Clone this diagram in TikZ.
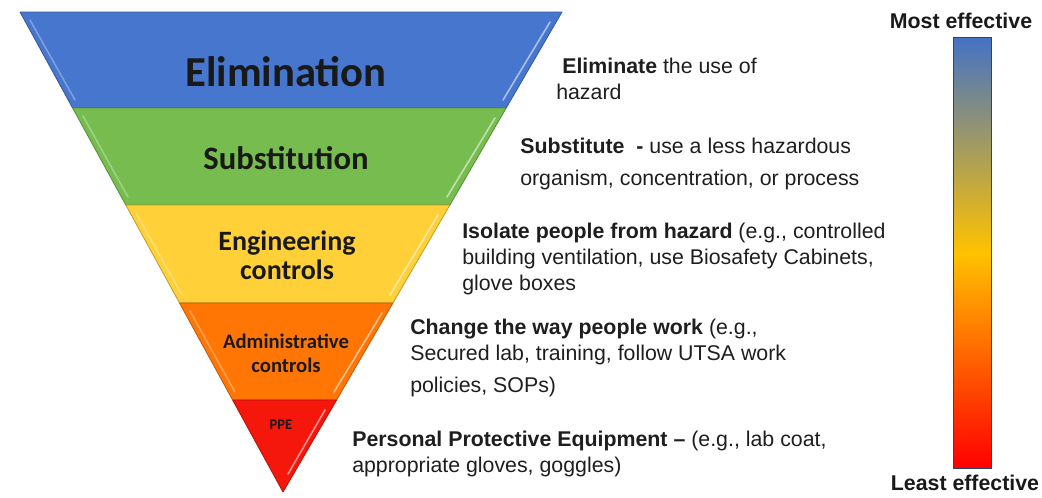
\documentclass[tikz,border=0pt]{standalone}
\usepackage{fontspec}
\setmainfont{Liberation Sans}
\newfontfamily\calibri{Carlito}
\usetikzlibrary{positioning}

\begin{document}
\begin{tikzpicture}[x=0.75pt, y=-0.75pt, font=\fontsize{16}{19.5}\selectfont,
    band/.style={line width=0.6pt, line join=round},
    shine/.style={white, opacity=0.55, line width=1.2pt, line cap=round},
    level/.style={font=\calibri\bfseries, text=black!90, align=center, inner sep=0pt},
    desc/.style={anchor=base west, align=left, inner sep=0pt, text=textGray},
    endlabel/.style={font=\fontsize{16}{19.5}\selectfont\bfseries, text=black!90, inner sep=0pt}]

    % Define colors
    \definecolor{elimBlue}{RGB}{70, 118, 206}
    \definecolor{substGreen}{RGB}{118, 188, 78}
    \definecolor{enginYellow}{RGB}{255, 208, 55}
    \definecolor{adminOrange}{RGB}{255, 118, 5}
    \definecolor{ppeRed}{RGB}{245, 22, 12}
    \definecolor{barBlue}{RGB}{68, 114, 196}
    \definecolor{barYellow}{RGB}{255, 194, 0}
    \definecolor{barRed}{RGB}{255, 0, 0}
    \definecolor{textGray}{RGB}{30, 30, 30}

    \useasboundingbox (0,0) rectangle (1042,497);

    % === INVERTED PYRAMID ===
    \filldraw[band, fill=elimBlue, draw=elimBlue!75!black]
        (20,12) -- (562,12) -- (506.2,108) -- (72.6,108) -- cycle;
    \filldraw[band, fill=substGreen, draw=substGreen!75!black]
        (72.6,108) -- (506.2,108) -- (449.9,205) -- (125.8,205) -- cycle;
    \filldraw[band, fill=enginYellow, draw=enginYellow!75!black]
        (125.8,205) -- (449.9,205) -- (392.9,303) -- (179.5,303) -- cycle;
    \filldraw[band, fill=adminOrange, draw=adminOrange!75!black]
        (179.5,303) -- (392.9,303) -- (336.6,400) -- (232.6,400) -- cycle;
    \filldraw[band, fill=ppeRed, draw=ppeRed!75!black]
        (232.6,400) -- (336.6,400) -- (283,492) -- cycle;

    % bevel highlights on the right edges
    \draw[shine] (550,22) -- (503,100);
    \draw[shine] (495,118) -- (447,197);
    \draw[shine] (438,215) -- (390,295);
    \draw[shine] (382,313) -- (334,392);
    \draw[shine] (325,410) -- (288,474);
    % softer highlights on the left edges
    \draw[shine, opacity=0.3] (30,20) -- (75,100);
    \draw[shine, opacity=0.3] (83,116) -- (128,197);
    \draw[shine, opacity=0.3] (136,213) -- (182,295);
    \draw[shine, opacity=0.3] (190,311) -- (235,392);

    % === LEVEL NAMES ===
    \node[level, font=\calibri\bfseries\fontsize{32}{36}\selectfont] (elim) at (286,72) {Elimination};
    \node[level, font=\calibri\bfseries\fontsize{24.5}{28}\selectfont] (subst) at (286,158) {Substitution};
    \node[level, font=\calibri\bfseries\fontsize{21}{22}\selectfont] (engin) at (287,255) {Engineering\\controls};
    \node[level, font=\calibri\bfseries\fontsize{15.5}{18}\selectfont] (admin) at (286,353) {Administrative\\controls};
    \node[level, font=\calibri\bfseries\fontsize{11}{12}\selectfont] (ppe) at (281,425) {PPE};

    % === DESCRIPTIONS ===
    \node[desc] (elimText) at (556,99) {\hspace{4.5pt}\textbf{Eliminate} the use of\\hazard};
    \node[desc] (substText) at (520,185) {\textbf{Substitute\ \ -} use a less hazardous\\[4.5pt]organism, concentration, or process};
    \node[desc] (enginText) at (462,290) {\textbf{Isolate people from hazard} (e.g., controlled\\building ventilation, use Biosafety Cabinets,\\glove boxes};
    \node[desc] (adminText) at (410,392) {\textbf{Change the way people work} (e.g.,\\Secured lab, training, follow UTSA work\\[4.5pt]policies, SOPs)};
    \node[desc] (ppeText) at (352,472) {\textbf{Personal Protective Equipment --} (e.g., lab coat,\\appropriate gloves, goggles)};

    % === EFFECTIVENESS BAR ===
    \shade[top color=barBlue, bottom color=barRed, middle color=barYellow]
        (953,37) rectangle (991,468);
    \draw[line width=0.5pt, draw=barBlue!60!black] (953,37) rectangle (991,468);
    \node[endlabel] (most) at (961,21) {Most effective};
    \node[endlabel] (least) at (965,483) {Least effective};

\end{tikzpicture}
\end{document}
